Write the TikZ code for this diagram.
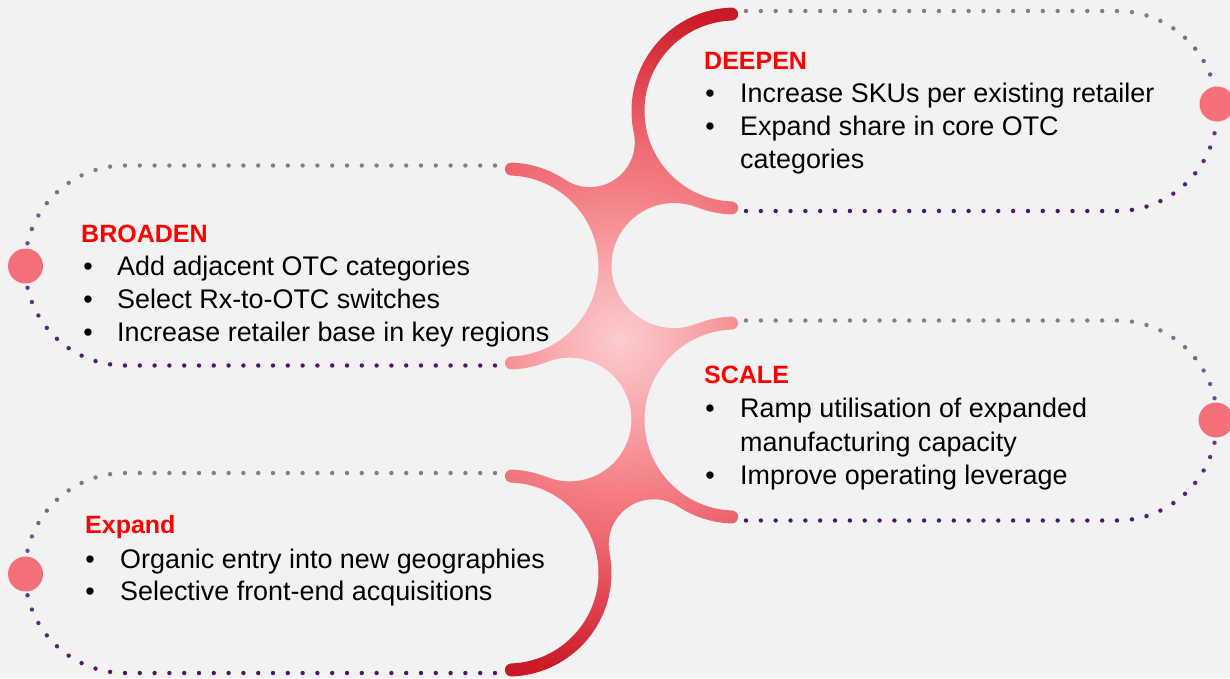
\documentclass[tikz,border=0pt]{standalone}
\usepackage{fontspec}
\setmainfont{Liberation Sans}
\definecolor{bg}{HTML}{F2F2F2}
\definecolor{dotG}{HTML}{887B85}
\definecolor{dotP}{HTML}{6A48A8}
\definecolor{dotK}{HTML}{4A1868}
\definecolor{pinkdot}{HTML}{F47078}
\definecolor{hdred}{HTML}{FF0000}
\definecolor{sp0}{HTML}{FBCDCF}
\definecolor{sp1}{HTML}{F8A9AD}
\definecolor{sp2}{HTML}{F47F85}
\definecolor{sp3}{HTML}{EE6870}
\definecolor{sp4}{HTML}{E24B56}
\definecolor{sp5}{HTML}{CC1C28}
\definecolor{sp6}{HTML}{C0101C}
\pgfdeclareradialshading{spineshade}{\pgfpointorigin}{color(0bp)=(sp0); color(4.375bp)=(sp1); color(9.375bp)=(sp2); color(12.5bp)=(sp3); color(15.625bp)=(sp4); color(20.625bp)=(sp5); color(25bp)=(sp6); color(50bp)=(sp6)}
\newcommand\spinefill{\shade[shading=spineshade] (220,-60) rectangle (1020,740);}
\newcommand\armclip[4]{%
  \clip ([shift={(#1,#2)}]#3:103.5) arc[start angle=#3, end angle=#4, radius=103.5]
     arc[start angle=#4, end angle=#4+180, radius=6.5]
     arc[start angle=#4, end angle=#3, radius=90.5]
     arc[start angle=#3+180, end angle=#3+360, radius=6.5] -- cycle;}
\newcommand\dotpill[4]{%
  \pgfmathsetmacro\dpL{abs(#2-#1)}%
  \pgfmathtruncatemacro\dpN{round(\dpL/14.8)}%
  \pgfmathsetmacro\dpS{(#2-#1)/\dpN}%
  \foreach \k in {0,...,\dpN}{%
    \fill[dotG] ({#1+\k*\dpS},{#3-100}) circle[radius=2.2];
    \fill[dotK] ({#1+\k*\dpS},{#3+100}) circle[radius=2.2];
  }%
  \foreach \i in {1,...,20}{%
    \pgfmathsetmacro\ang{90+#4*(180*\i/21-180)}%
    \pgfmathsetmacro\tt{(1+sin(\ang))/2}%
    \pgfmathtruncatemacro\pa{min(100,250*\tt)}%
    \pgfmathtruncatemacro\pb{max(0,(\tt-0.4)*166.67)}%
    \fill[dotK!\pb!dotP!\pa!dotG] ({#2+100*cos(\ang)},{#3+100*sin(\ang)}) circle[radius=2.2];
  }%
}
\begin{document}
\begin{tikzpicture}[x=1pt,y=-1pt,
  tx/.style={anchor=base west, inner sep=0pt, font=\fontsize{26.9}{32}\selectfont},
  hd/.style={anchor=base west, inner sep=0pt, font=\fontsize{25}{30}\selectfont\bfseries, text=hdred},
  bul/.style={anchor=base, inner sep=0pt, font=\fontsize{26.9}{32}\selectfont},
  pdot/.style={circle, fill=pinkdot, minimum size=35pt, inner sep=0pt}]
\useasboundingbox (0,0) rectangle (1230,678);
\fill[bg] (0,0) rectangle (1230,678);
% dotted pill outlines
\dotpill{746}{1117}{111}{1}
\dotpill{495}{125}{265.5}{-1}
\dotpill{746}{1117}{420.5}{1}
\dotpill{495}{125}{573}{-1}
% spine arms
\begin{scope}\armclip{735}{111}{92}{268}\spinefill\end{scope}
\begin{scope}\armclip{508}{266}{-88}{88}\spinefill\end{scope}
\begin{scope}\armclip{735}{420}{92}{268}\spinefill\end{scope}
\begin{scope}\armclip{508}{573}{-88}{88}\spinefill\end{scope}
% junction 1
\begin{scope}
\clip (633.8,132.7) arc[start angle=-12.1, end angle=123.43, radius=45]
 -- ([shift={(508,266)}]-56.57:97) arc[start angle=-56.57, end angle=0, radius=97]
 -- (611.5,265.6) arc[start angle=180, end angle=291.54, radius=62.6]
 -- ([shift={(735,111)}]111.54:97) arc[start angle=111.54, end angle=167.9, radius=97] -- cycle;
\spinefill
\end{scope}
% junction 2
\begin{scope}
\clip (611.5,265.6) -- ([shift={(508,266)}]0:97) arc[start angle=0, end angle=68.14, radius=97]
 -- (546.5,362.1) arc[start angle=248.14, end angle=360.17, radius=61.9]
 -- ([shift={(735,420)}]180.17:97) arc[start angle=180.17, end angle=248.46, radius=97]
 -- (697.0,323.7) arc[start angle=68.46, end angle=179.83, radius=62.6] -- cycle;
\spinefill
\end{scope}
% junction 3
\begin{scope}
\clip (631.5,419.7) -- ([shift={(735,420)}]180.17:97) arc[start angle=180.17, end angle=123.19, radius=97]
 -- (678.3,506.6) arc[start angle=303.19, end angle=168.86, radius=45]
 -- ([shift={(508,573)}]-11.14:97) arc[start angle=-11.14, end angle=-68.14, radius=97]
 -- (546.5,476.9) arc[start angle=111.86, end angle=0.17, radius=61.9] -- cycle;
\spinefill
\end{scope}
% pink end dots
\node[pdot] (p1) at (1217,104) {};
\node[pdot] (p2) at (25.5,266) {};
\node[pdot] (p3) at (1216,420) {};
\node[pdot] (p4) at (25.5,574) {};
% DEEPEN
\node[hd] (dh) at (704,69) {DEEPEN};
\node[bul] (db1) at (710,102) {•};
\node[tx] (dt1) at (740,102) {Increase SKUs per existing retailer};
\node[bul] (db2) at (710,135) {•};
\node[tx] (dt2) at (740,135) {Expand share in core OTC};
\node[tx] (dt3) at (740,168) {categories};
% BROADEN
\node[hd] (bh) at (81,242) {BROADEN};
\node[bul] (bb1) at (88,275) {•};
\node[tx] (bt1) at (117,275) {Add adjacent OTC categories};
\node[bul] (bb2) at (88,308) {•};
\node[tx] (bt2) at (117,308) {Select Rx-to-OTC switches};
\node[bul] (bb3) at (88,341) {•};
\node[tx] (bt3) at (117,341) {Increase retailer base in key regions};
% SCALE
\node[hd] (sh) at (704,383) {SCALE};
\node[bul] (sb1) at (710,417) {•};
\node[tx] (st1) at (740,417) {Ramp utilisation of expanded};
\node[tx] (st2) at (740,451) {manufacturing capacity};
\node[bul] (sb2) at (710,484) {•};
\node[tx] (st3) at (740,484) {Improve operating leverage};
% Expand
\node[hd] (eh) at (85,533) {Expand};
\node[bul] (eb1) at (90,568) {•};
\node[tx] (et1) at (120,568) {Organic entry into new geographies};
\node[bul] (eb2) at (90,600) {•};
\node[tx] (et2) at (120,600) {Selective front-end acquisitions};
\end{tikzpicture}
\end{document}
